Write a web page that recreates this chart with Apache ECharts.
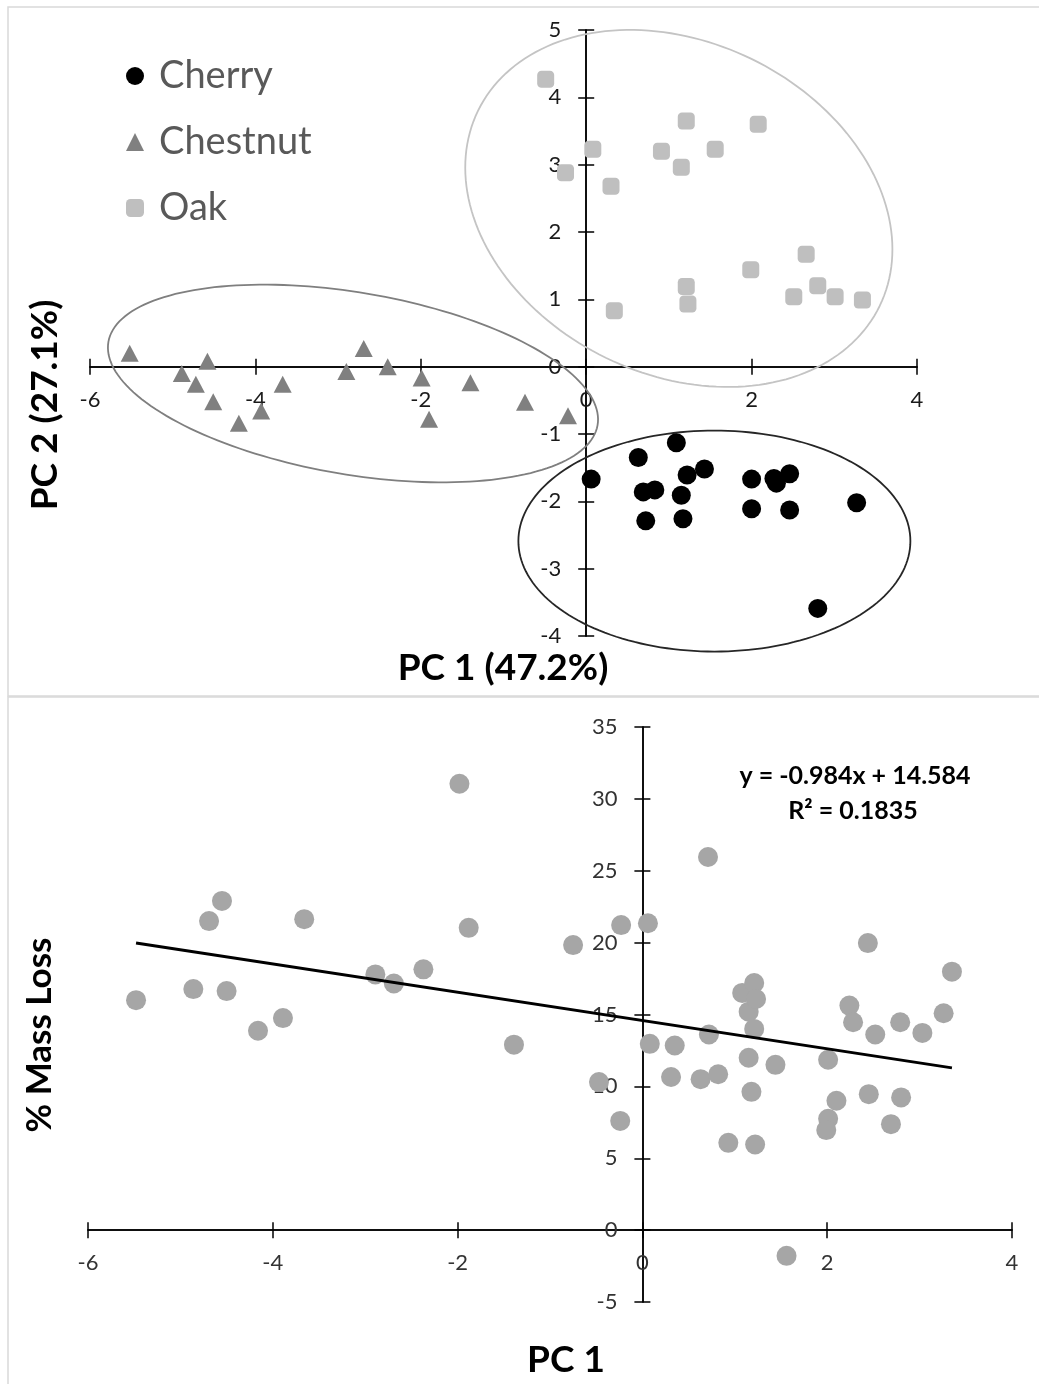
<!DOCTYPE html>
<html>
<head>
<meta charset="utf-8">
<script src="https://cdn.jsdelivr.net/npm/echarts@6/dist/echarts.min.js"></script>
<style>
  html, body { margin: 0; padding: 0; background: #fff; }
  #main { width: 1039px; height: 1384px; }
</style>
</head>
<body>
<div id="main"></div>
<script>
// top panel: PCA scores by wood type
var cherryPC1 = [0.06, 0.63, 1.09, 0.69, 0.83, 0.72, 1.22, 1.43, 1.15, 1.17, 2.00, 2.00, 2.27, 2.30, 2.46, 2.46, 3.27, 2.80];
var cherryPC2 = [-1.67, -1.35, -1.13, -1.86, -1.83, -2.29, -1.61, -1.52, -1.91, -2.26, -1.67, -2.11, -1.66, -1.73, -1.59, -2.13, -2.02, -3.59];

var chestnutPC1 = [-5.52, -4.89, -4.58, -4.72, -4.51, -4.20, -3.93, -3.67, -2.90, -2.69, -2.40, -1.99, -1.90, -1.40, -0.74, -0.22];
var chestnutPC2 = [0.20, -0.10, 0.08, -0.26, -0.52, -0.84, -0.66, -0.26, -0.07, 0.27, 0.00, -0.17, -0.78, -0.24, -0.53, -0.73];

var oakPC1 = [-0.49, -0.25, 0.08, 0.30, 0.34, 0.91, 1.15, 1.21, 1.56, 1.21, 1.23, 2.08, 1.99, 2.66, 2.51, 2.80, 3.01, 3.34];
var oakPC2 = [4.27, 2.88, 3.23, 2.68, 0.83, 3.20, 2.96, 3.65, 3.23, 1.19, 0.93, 3.60, 1.44, 1.67, 1.04, 1.20, 1.04, 0.99];

// group ellipses: cherry, chestnut, oak (radii in PC1 units, angle in degrees)
var ellipseCenters = [[1.55, -2.59], [-2.82, -0.25], [1.12, 2.35]];
var ellipseRadii = [[2.37, 1.336], [3.00, 1.10], [2.70, 2.01]];
var ellipseAngles = [0, 9.65, 25.9];

// bottom panel: mass loss vs PC1
var massPC1 = [-5.48, -4.86, -4.69, -4.55, -4.50, -4.16, -3.89, -3.66, -2.89, -2.69, -2.37, -1.98, -1.88, -1.39,
  -0.75, -0.47, -0.24, -0.23, 0.06, 0.08, 0.35, 0.31, 0.71, 0.63, 0.72, 0.82, 0.93, 1.08, 1.15, 1.21, 1.23, 1.21,
  1.15, 1.18, 1.22, 1.44, 1.56, 2.01, 2.01, 1.99, 2.10, 2.24, 2.28, 2.44, 2.45, 2.52, 2.69, 2.79, 2.80, 3.03, 3.26, 3.35];
var massLoss = [16.0, 16.77, 21.5, 22.9, 16.63, 13.87, 14.75, 21.63, 17.79, 17.16, 18.14, 31.05, 21.03, 12.9,
  19.83, 10.3, 7.6, 21.22, 21.35, 12.96, 12.84, 10.65, 25.96, 10.5, 13.61, 10.84, 6.07, 16.5, 15.2, 17.19, 16.08, 14.0,
  11.99, 9.62, 5.96, 11.5, -1.79, 11.85, 7.75, 6.96, 9.0, 15.62, 14.46, 19.97, 9.46, 13.61, 7.37, 14.46, 9.23, 13.72, 15.09, 17.98];

var trendSlope = -0.984;
var trendIntercept = 14.584;

function pairs(xs, ys) {
  var out = [];
  for (var i = 0; i < xs.length; i++) out.push([xs[i], ys[i]]);
  return out;
}

var xMin = Math.min.apply(null, massPC1);
var xMax = Math.max.apply(null, massPC1);
var trendData = [[xMin, trendSlope * xMin + trendIntercept], [xMax, trendSlope * xMax + trendIntercept]];

var FONT = 'Lato';
var ellipseColors = ['#262626', '#7f7f7f', '#c4c4c4'];

var grids = [
  { left: 90, width: 827, top: 30, height: 606, x: [-6, 4, 2], y: [-4, 5, 1], color: '#1a1a1a' },
  { left: 88, width: 924, top: 727, height: 575, x: [-6, 4, 2], y: [-5, 35, 5], color: '#333333' }
];

// axes cross at (0,0): each axis is drawn twice, once from each grid edge,
// so the ticks stick out on both sides of the line (Excel "cross" ticks)
function axisPair(dim, gi) {
  var g = grids[gi];
  var r = g[dim];
  var other = dim === 'x' ? g.y : g.x;
  var size = dim === 'x' ? g.height : g.width;
  var frac = (0 - other[0]) / (other[1] - other[0]);
  var sides = dim === 'x' ? ['bottom', 'top'] : ['left', 'right'];
  return sides.map(function (pos, k) {
    return {
      type: 'value', gridIndex: gi, min: r[0], max: r[1], interval: r[2],
      position: pos,
      offset: k === 0 ? -frac * size : -(1 - frac) * size,
      axisLine: { onZero: false, lineStyle: { color: '#000', width: 1.5 } },
      axisTick: { show: true, inside: false, length: 8, lineStyle: { color: '#000', width: 1.5 } },
      axisLabel: { show: k === 0, margin: dim === 'x' ? 22 : 25, fontFamily: FONT, fontSize: 22, color: g.color },
      splitLine: { show: false }
    };
  });
}

var myChart = echarts.init(document.getElementById('main'));

var option = {
  backgroundColor: '#fff',
  animation: false,
  grid: grids.map(function (g) {
    return { left: g.left, width: g.width, top: g.top, height: g.height, outerBoundsMode: 'none' };
  }),
  xAxis: axisPair('x', 0).concat(axisPair('x', 1)),
  yAxis: axisPair('y', 0).concat(axisPair('y', 1)),
  legend: {
    data: ['Cherry', 'Chestnut', 'Oak'],
    orient: 'vertical',
    left: 126,
    top: 57,
    padding: 0,
    itemWidth: 18,
    itemHeight: 18,
    itemGap: 28,
    textStyle: { fontFamily: FONT, fontSize: 38, color: '#595959', padding: [0, 0, 0, 10] }
  },
  graphic: [
    { type: 'rect', z: -10, shape: { x: 8, y: 7, width: 1040, height: 689 },
      style: { fill: 'none', stroke: '#d9d9d9', lineWidth: 1.5 } },
    { type: 'rect', z: -10, shape: { x: 8, y: 697, width: 1040, height: 700 },
      style: { fill: 'none', stroke: '#d9d9d9', lineWidth: 1.5 } },
    { type: 'text', x: 503, y: 668, style: { text: 'PC 1 (47.2%)', font: 'bold 37px ' + FONT, fill: '#000', align: 'center', verticalAlign: 'middle' } },
    { type: 'text', x: 45, y: 405, rotation: Math.PI / 2, style: { text: 'PC 2 (27.1%)', font: 'bold 37px ' + FONT, fill: '#000', align: 'center', verticalAlign: 'middle' } },
    { type: 'text', x: 566, y: 1360, style: { text: 'PC 1', font: 'bold 37px ' + FONT, fill: '#000', align: 'center', verticalAlign: 'middle' } },
    { type: 'text', x: 40, y: 1035, rotation: Math.PI / 2, style: { text: '% Mass Loss', font: 'bold 35px ' + FONT, fill: '#000', align: 'center', verticalAlign: 'middle' } },
    { type: 'text', x: 855, y: 776, style: { text: 'y = -0.984x + 14.584', font: 'bold 25px ' + FONT, fill: '#000', align: 'center', verticalAlign: 'middle' } },
    { type: 'text', x: 853, y: 811, style: { text: 'R² = 0.1835', font: 'bold 25px ' + FONT, fill: '#000', align: 'center', verticalAlign: 'middle' } }
  ],
  series: [
    {
      type: 'custom',
      name: 'ellipses',
      xAxisIndex: 0, yAxisIndex: 0,
      clip: false,
      silent: true,
      z: 1,
      data: ellipseCenters,
      renderItem: function (params, api) {
        var i = params.dataIndex;
        var c = api.coord(ellipseCenters[i]);
        var unit = api.size([1, 0])[0];
        var rx = ellipseRadii[i][0] * unit;
        var ry = ellipseRadii[i][1] * unit;
        var th = ellipseAngles[i] * Math.PI / 180;
        var pts = [];
        for (var k = 0; k <= 180; k++) {
          var t = k / 180 * 2 * Math.PI;
          var ex = rx * Math.cos(t), ey = ry * Math.sin(t);
          pts.push([c[0] + ex * Math.cos(th) - ey * Math.sin(th), c[1] + ex * Math.sin(th) + ey * Math.cos(th)]);
        }
        return {
          type: 'polygon',
          shape: { points: pts },
          style: { fill: 'none', stroke: ellipseColors[i], lineWidth: 1.8 }
        };
      }
    },
    {
      name: 'Cherry', type: 'scatter', xAxisIndex: 0, yAxisIndex: 0, z: 3,
      symbol: 'circle', symbolSize: 19,
      itemStyle: { color: '#000', opacity: 1 },
      data: pairs(cherryPC1, cherryPC2)
    },
    {
      name: 'Chestnut', type: 'scatter', xAxisIndex: 0, yAxisIndex: 0, z: 3,
      symbol: 'triangle', symbolSize: [18, 17],
      itemStyle: { color: '#808080', opacity: 1 },
      data: pairs(chestnutPC1, chestnutPC2)
    },
    {
      name: 'Oak', type: 'scatter', xAxisIndex: 0, yAxisIndex: 0, z: 3,
      symbol: 'roundRect', symbolSize: 17,
      itemStyle: { color: '#bfbfbf', opacity: 1 },
      data: pairs(oakPC1, oakPC2)
    },
    {
      name: 'Mass loss', type: 'scatter', xAxisIndex: 2, yAxisIndex: 2, z: 3,
      symbol: 'circle', symbolSize: 20,
      itemStyle: { color: '#a6a6a6', opacity: 1 },
      data: pairs(massPC1, massLoss)
    },
    {
      name: 'Linear trend', type: 'line', xAxisIndex: 2, yAxisIndex: 2, z: 4,
      symbol: 'none', silent: true,
      lineStyle: { color: '#000', width: 3 },
      data: trendData
    }
  ]
};

myChart.setOption(option);
</script>
</body>
</html>
